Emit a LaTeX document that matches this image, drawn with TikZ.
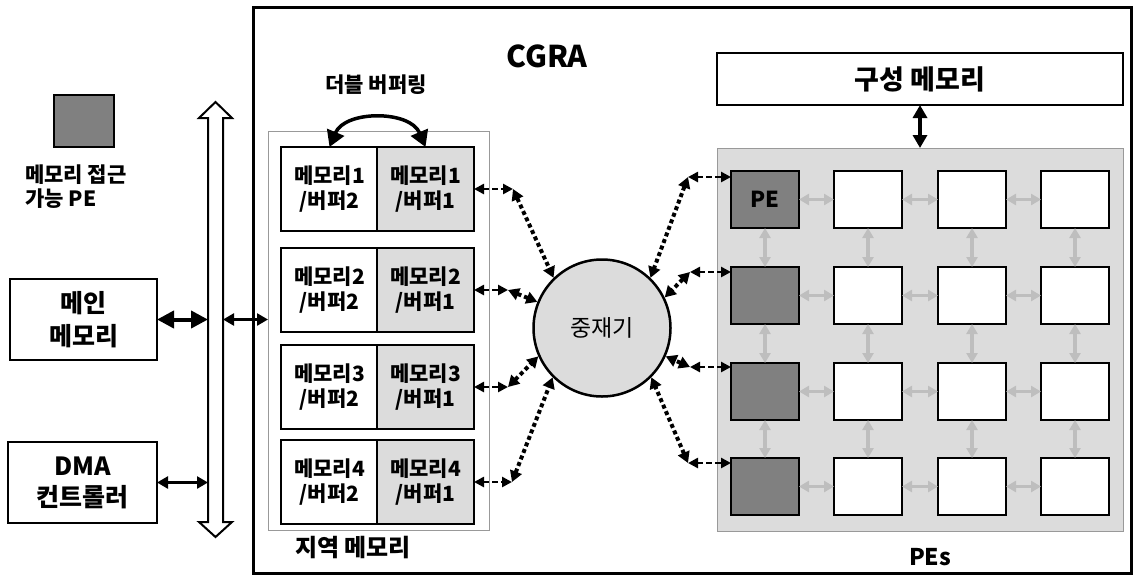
\documentclass[tikz,border=0pt]{standalone}
\usepackage{fontspec}
\setmainfont{Noto Sans CJK KR}
\usetikzlibrary{arrows.meta}
\definecolor{peGray}{HTML}{808080}
\definecolor{lightG}{HTML}{DCDCDC}
\definecolor{arrG}{HTML}{BEBEBE}
\definecolor{frameG}{HTML}{999999}
\newcommand\fsz[2]{\fontsize{#1pt}{#2pt}\selectfont}
\begin{document}
\begin{tikzpicture}[x=1pt,y=-1pt,
  sz/.style 2 args={minimum width=#1pt,minimum height=#2pt,inner sep=0pt,outer sep=0pt},
  blk/.style={draw,line width=2.5pt,align=center,fill=white},
  memL/.style={blk,sz={97}{84},font=\fsz{21}{25}\bfseries},
  memR/.style={memL,fill=lightG},
  pebox/.style={draw,line width=2.5pt,fill=white,sz={68}{57}},
  apebox/.style={pebox,fill=peGray},
  garr/.style={arrG,line width=3.5pt,{Triangle[length=10pt,width=11pt]}-{Triangle[length=10pt,width=11pt]}},
  dshArr/.style={line width=2.5pt,dash pattern=on 6pt off 3pt,{Triangle[length=10pt,width=10pt]}-{Triangle[length=10pt,width=10pt]}},
  dotArr/.style={line width=4pt,dash pattern=on 4pt off 3pt,{Triangle[length=11pt,width=12pt]}-{Triangle[length=11pt,width=12pt]}},
  bigArr/.style={line width=4pt,{Triangle[length=17pt,width=17pt]}-{Triangle[length=17pt,width=17pt]}},
  medArr/.style={line width=3.5pt,{Triangle[length=13pt,width=14pt]}-{Triangle[length=13pt,width=14pt]}},
  smArr/.style={line width=2.5pt,{Triangle[length=11pt,width=12pt]}-{Triangle[length=11pt,width=12pt]}},
  lbl/.style={inner sep=0pt,align=center}
]
\useasboundingbox (0,0) rectangle (1134,576);

% CGRA frame
\node[draw,line width=3pt,sz={878}{566}] (cgra) at (692,290) {};
\node[lbl,font=\fsz{30}{36}\bfseries] (cgrat) at (547,56) {CGRA};

% legend
\node[draw,line width=2pt,fill=peGray,sz={60}{52}] (leg) at (84,121) {};
\node[lbl,anchor=west,align=left,font=\fsz{21}{24}\bfseries] (legt) at (25,187) {메모리 접근\\가능 PE};

% bus
\draw[line width=2pt,fill=white] (215.5,102) -- (232,118) -- (223,118) -- (223,522) -- (232,522) -- (215.5,537) -- (199,522) -- (208,522) -- (208,118) -- (199,118) -- cycle;
\node[sz={15}{404}] (bus) at (215.5,320) {};

% main memory and DMA
\node[blk,sz={147}{81},font=\fsz{25}{33}\bfseries] (mm) at (83.5,319.5) {메인\\메모리};
\node[blk,sz={149}{81},font=\fsz{25}{31}\bfseries] (dma) at (82.5,482.5) {DMA\\컨트롤러};

% local memory
\node[draw=frameG,line width=1pt,sz={221}{399}] (lm) at (378.5,330.5) {};
\node[lbl,font=\fsz{24}{28}\bfseries] (lmt) at (353,548) {지역 메모리};

\draw[bigArr] (mm.east) -- (mm.east -| bus.west);
\draw[smArr] (dma.east) -- (dma.east -| bus.west);
\draw[smArr] (bus.east |- mm.east) -- (lm.west |- mm.east);

\foreach \i/\y in {1/189,2/290,3/387,4/482} {
  \node[memL] (m\i a) at (329.5,\y) {메모리\i\\/버퍼2};
  \node[memR] (m\i b) at (425.5,\y) {메모리\i\\/버퍼1};
}

% double buffering
\node[lbl,font=\fsz{21}{24}\bfseries] (dbt) at (376,85) {더블 버퍼링};
\draw[line width=3.5pt,{Triangle[length=16pt,width=18pt]}-{Triangle[length=16pt,width=18pt]}] (m1a.north) .. controls (345,110) and (410,110) .. (m1b.north);

% arbiter
\node[circle,draw,line width=2.5pt,fill=lightG,minimum size=137pt,inner sep=0pt,font=\fsz{23}{28}] (arb) at (602,328) {중재기};

% PE array
\node[draw=frameG,line width=1pt,fill=lightG,sz={406}{383}] (pes) at (920,339.5) {};
\node[lbl,font=\fsz{23}{28}\bfseries] (pest) at (930,557) {PEs};
\node[blk,sz={406}{52},font=\fsz{27}{31}\bfseries] (cfg) at (920,79) {구성 메모리};
\draw[medArr] (cfg.south) -- (pes.north);

\foreach \r/\y in {1/199.5,2/295.5,3/391.5,4/486.5} {
  \node[apebox] (p\r1) at (765,\y) {};
  \foreach \c/\x in {2/868,3/972,4/1075} {
    \node[pebox] (p\r\c) at (\x,\y) {};
  }
}
\node[lbl,font=\fsz{22}{25}\bfseries] (pet) at (p11) {PE};

\foreach \r in {1,2,3,4} {
  \foreach \c/\d in {1/2,2/3,3/4} {
    \draw[garr] (p\r\c.east) -- (p\r\d.west);
  }
}
\foreach \r/\s in {1/2,2/3,3/4} {
  \foreach \c in {1,2,3,4} {
    \draw[garr] (p\r\c.south) -- (p\s\c.north);
  }
}

% arbiter connections
\coordinate (L1) at (513,189);
\coordinate (L2) at (508,290);
\coordinate (L3) at (508,387);
\coordinate (L4) at (512,482);
\coordinate (R1) at (688,177);
\coordinate (R2) at (690,272);
\coordinate (R3) at (690,367);
\coordinate (R4) at (688,463);

\draw[dshArr] (m1b.east) -- (L1);
\draw[dshArr] (m2b.east) -- (L2);
\draw[dshArr] (m3b.east) -- (L3);
\draw[dshArr] (m4b.east) -- (L4);
\draw[dotArr] (L1) -- (arb.134);
\draw[dotArr] (L2) -- (arb.158);
\draw[dotArr] (L3) -- (arb.204);
\draw[dotArr] (L4) -- (arb.225);

\draw[dshArr] (R1) -- (R1 -| p11.west);
\draw[dshArr] (R2) -- (R2 -| p21.west);
\draw[dshArr] (R3) -- (R3 -| p31.west);
\draw[dshArr] (R4) -- (R4 -| p41.west);
\draw[dotArr] (R1) -- (arb.46);
\draw[dotArr] (R2) -- (arb.26);
\draw[dotArr] (R3) -- (arb.336);
\draw[dotArr] (R4) -- (arb.315);
\end{tikzpicture}
\end{document}
